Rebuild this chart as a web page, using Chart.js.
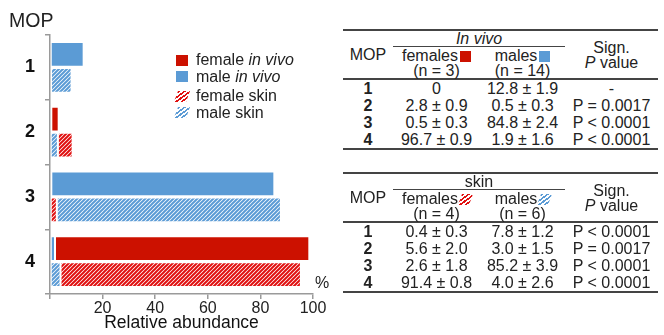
<!DOCTYPE html>
<html lang="en">

<head>
    <meta charset="UTF-8">
    <title>MOP relative abundance</title>
    <script src="https://cdn.jsdelivr.net/npm/chart.js"></script>
    <style>
        body { margin: 0; background: #fff; font-family: "Liberation Sans", Arial, sans-serif; color: #222; }
        #wrap { position: relative; width: 664px; height: 335px; overflow: hidden; }
        #chart { position: absolute; left: 0; top: 0; }
        .lbl { position: absolute; white-space: nowrap; }
        #legend { position: absolute; left: 176px; top: 52px; font-size: 16px; line-height: 16.5px; }
        #legend div { display: flex; align-items: center; height: 16.5px; }
        #legend div.gap { margin-top: 3px; }
        .sw { display: inline-block; width: 12px; height: 11px; margin-right: 8px; }
        .red { background: #cc1100; }
        .blue { background: #5b9bd5; }
        .hred { background: repeating-linear-gradient(135deg, #e01010 0 2px, #fff 2px 4px); transform: skewX(-20deg); }
        .hblue { background: repeating-linear-gradient(135deg, #5b9bd5 0 2px, #fff 2px 4px); transform: skewX(-20deg); }
        table.t { position: absolute; left: 343px; width: 315px; border-collapse: collapse; font-size: 16px; table-layout: fixed; }
        table.t td { text-align: center; padding: 0; line-height: 17px; height: 17px; white-space: nowrap; overflow: visible; }
        table.t tr.top td { border-top: 2px solid #444; height: 15px; line-height: 15px; }
        table.t td.grp { border-bottom: 1.5px solid #444; }
        table.t tr.hdr2 td { border-bottom: 2.5px solid #444; line-height: 15px; height: 31px; }
        table.t tr.last td { border-bottom: 2px solid #444; }
        table.t td.mop { font-weight: bold; }
        .sq { display: inline-block; width: 11px; height: 11px; vertical-align: -1px; margin-left: 2px; }
    </style>
</head>

<body>
    <div id="wrap">
        <canvas id="chart" width="340" height="335"></canvas>
        <div class="lbl" style="left:9px; top:9px; font-size:19.5px;">MOP</div>
        <div class="lbl" style="left:315px; top:274px; font-size:16px;">%</div>
        <div id="legend"></div>
        <table class="t" id="t1" style="top:29px;"></table>
        <table class="t" id="t2" style="top:172px;"></table>
    </div>

    <script>
        // MOP categories and mean relative abundance (%)
        const mopLabels = ['1', '2', '3', '4'];
        const femaleVivo = [0, 2.8, 0.5, 96.7];
        const maleVivo = [12.8, 0.5, 84.8, 1.9];
        const femaleSkin = [0.4, 5.6, 2.6, 91.4];
        const maleSkin = [7.8, 3.0, 85.2, 4.0];

        // standard deviations and p values for the tables
        const femaleVivoSd = ['', '0.9', '0.3', '0.9'];
        const maleVivoSd = ['1.9', '0.3', '2.4', '1.6'];
        const femaleSkinSd = ['0.3', '2.0', '1.8', '0.8'];
        const maleSkinSd = ['1.2', '1.5', '3.9', '2.6'];
        const pVivo = ['-', 'P = 0.0017', 'P < 0.0001', 'P < 0.0001'];
        const pSkin = ['P < 0.0001', 'P = 0.0017', 'P < 0.0001', 'P < 0.0001'];

        const xTicks = [0, 20, 40, 60, 80, 100];

        const RED = '#cc1100';
        const BLUE = '#5b9bd5';

        function hatch(color) {
            const c = document.createElement('canvas');
            c.width = 4; c.height = 4;
            const g = c.getContext('2d');
            g.fillStyle = '#fff';
            g.fillRect(0, 0, 4, 4);
            g.strokeStyle = color;
            g.lineWidth = 2;
            g.beginPath();
            g.moveTo(-1, 5); g.lineTo(5, -1);
            g.moveTo(-1, 1); g.lineTo(1, -1);
            g.moveTo(3, 5); g.lineTo(5, 3);
            g.stroke();
            return g.createPattern(c, 'repeat');
        }

        // smaller segment is drawn first, the other one stacked after it
        function floating(a, b) {
            return a.map((v, i) => (v <= b[i] ? [0, v] : [b[i], b[i] + v]));
        }

        function buildLegend() {
            document.getElementById('legend').innerHTML =
                '<div><span class="sw red"></span>female&nbsp;<i>in vivo</i></div>' +
                '<div><span class="sw blue"></span>male&nbsp;<i>in vivo</i></div>' +
                '<div class="gap"><span class="sw hred"></span>female skin</div>' +
                '<div><span class="sw hblue"></span>male skin</div>';
        }

        function buildTable(id, group, nF, nM, fSw, mSw, fVals, fSd, mVals, mSd, pv) {
            let html = '<colgroup><col style="width:50px"><col style="width:87px"><col style="width:85px"><col style="width:93px"></colgroup>';
            html += '<tr class="top"><td rowspan="2" style="vertical-align:middle;border-bottom:2.5px solid #444">MOP</td>' +
                '<td colspan="2" class="grp">' + group + '</td>' +
                '<td rowspan="2" style="vertical-align:middle;border-bottom:2.5px solid #444;line-height:15px">Sign.<br><i>P</i> value</td></tr>';
            html += '<tr class="hdr2"><td>females<span class="sq ' + fSw + '"></span><br>(n = ' + nF + ')</td>' +
                '<td>males<span class="sq ' + mSw + '"></span><br>(n = ' + nM + ')</td></tr>';
            for (let i = 0; i < mopLabels.length; i++) {
                const f = fSd[i] === '' ? String(fVals[i]) : fVals[i].toFixed(1) + ' ± ' + fSd[i];
                const m = mSd[i] === '' ? String(mVals[i]) : mVals[i].toFixed(1) + ' ± ' + mSd[i];
                html += '<tr' + (i === mopLabels.length - 1 ? ' class="last"' : '') + '><td class="mop">' + mopLabels[i] +
                    '</td><td>' + f + '</td><td>' + m + '</td><td>' + pv[i] + '</td></tr>';
            }
            document.getElementById(id).innerHTML = html;
        }

        function generateChart() {
            const ctx = document.getElementById('chart').getContext('2d');
            const data = {
                labels: mopLabels,
                datasets: [
                    { label: 'female in vivo', data: floating(femaleVivo, maleVivo), backgroundColor: RED, stack: 'vivo' },
                    { label: 'male in vivo', data: floating(maleVivo, femaleVivo), backgroundColor: BLUE, stack: 'vivo' },
                    { label: 'female skin', data: floating(femaleSkin, maleSkin), backgroundColor: hatch('#e01010'), stack: 'skin' },
                    { label: 'male skin', data: floating(maleSkin, femaleSkin), backgroundColor: hatch(BLUE), stack: 'skin' },
                ]
            };
            data.datasets.forEach(d => {
                d.borderColor = '#ffffff';
                d.borderWidth = 1;
                d.borderSkipped = false;
                d.categoryPercentage = 0.8;
                d.barPercentage = 0.95;
            });

            const axisGray = '#9a9a9a';
            new Chart(ctx, {
                type: 'bar',
                data: data,
                options: {
                    indexAxis: 'y',
                    responsive: false,
                    animation: false,
                    layout: { padding: { top: 35, right: 27, left: 0, bottom: 0 } },
                    plugins: { legend: { display: false }, tooltip: { enabled: false } },
                    scales: {
                        x: {
                            stacked: false,
                            min: 0,
                            max: 100,
                            afterBuildTicks: s => { s.ticks = xTicks.map(v => ({ value: v })); },
                            afterFit: s => { s.height = 41; },
                            border: { color: axisGray, width: 1.5 },
                            grid: { drawOnChartArea: false, drawTicks: true, tickLength: 5, color: axisGray, lineWidth: 1.5 },
                            ticks: {
                                padding: 0,
                                color: '#222',
                                font: { family: 'Liberation Sans', size: 16 },
                                callback: v => (v === 0 ? '' : v)
                            },
                            title: {
                                display: true,
                                text: 'Relative abundance',
                                color: '#111',
                                padding: { top: 0, bottom: 1 },
                                font: { family: 'Liberation Sans', size: 17.5 }
                            }
                        },
                        y: {
                            afterFit: s => { s.width = 50; },
                            border: { color: axisGray, width: 1.5 },
                            grid: { offset: true, drawOnChartArea: false, drawTicks: true, tickLength: 5, color: axisGray, lineWidth: 1.5 },
                            ticks: {
                                padding: 10,
                                color: '#111',
                                font: { family: 'Liberation Sans', size: 18, weight: 'bold' }
                            }
                        }
                    }
                }
            });
        }

        buildLegend();
        buildTable('t1', '<i>In vivo</i>', 3, 14, 'red', 'blue', femaleVivo, femaleVivoSd, maleVivo, maleVivoSd, pVivo);
        buildTable('t2', 'skin', 4, 6, 'hred', 'hblue', femaleSkin, femaleSkinSd, maleSkin, maleSkinSd, pSkin);
        generateChart();
    </script>
</body>

</html>
